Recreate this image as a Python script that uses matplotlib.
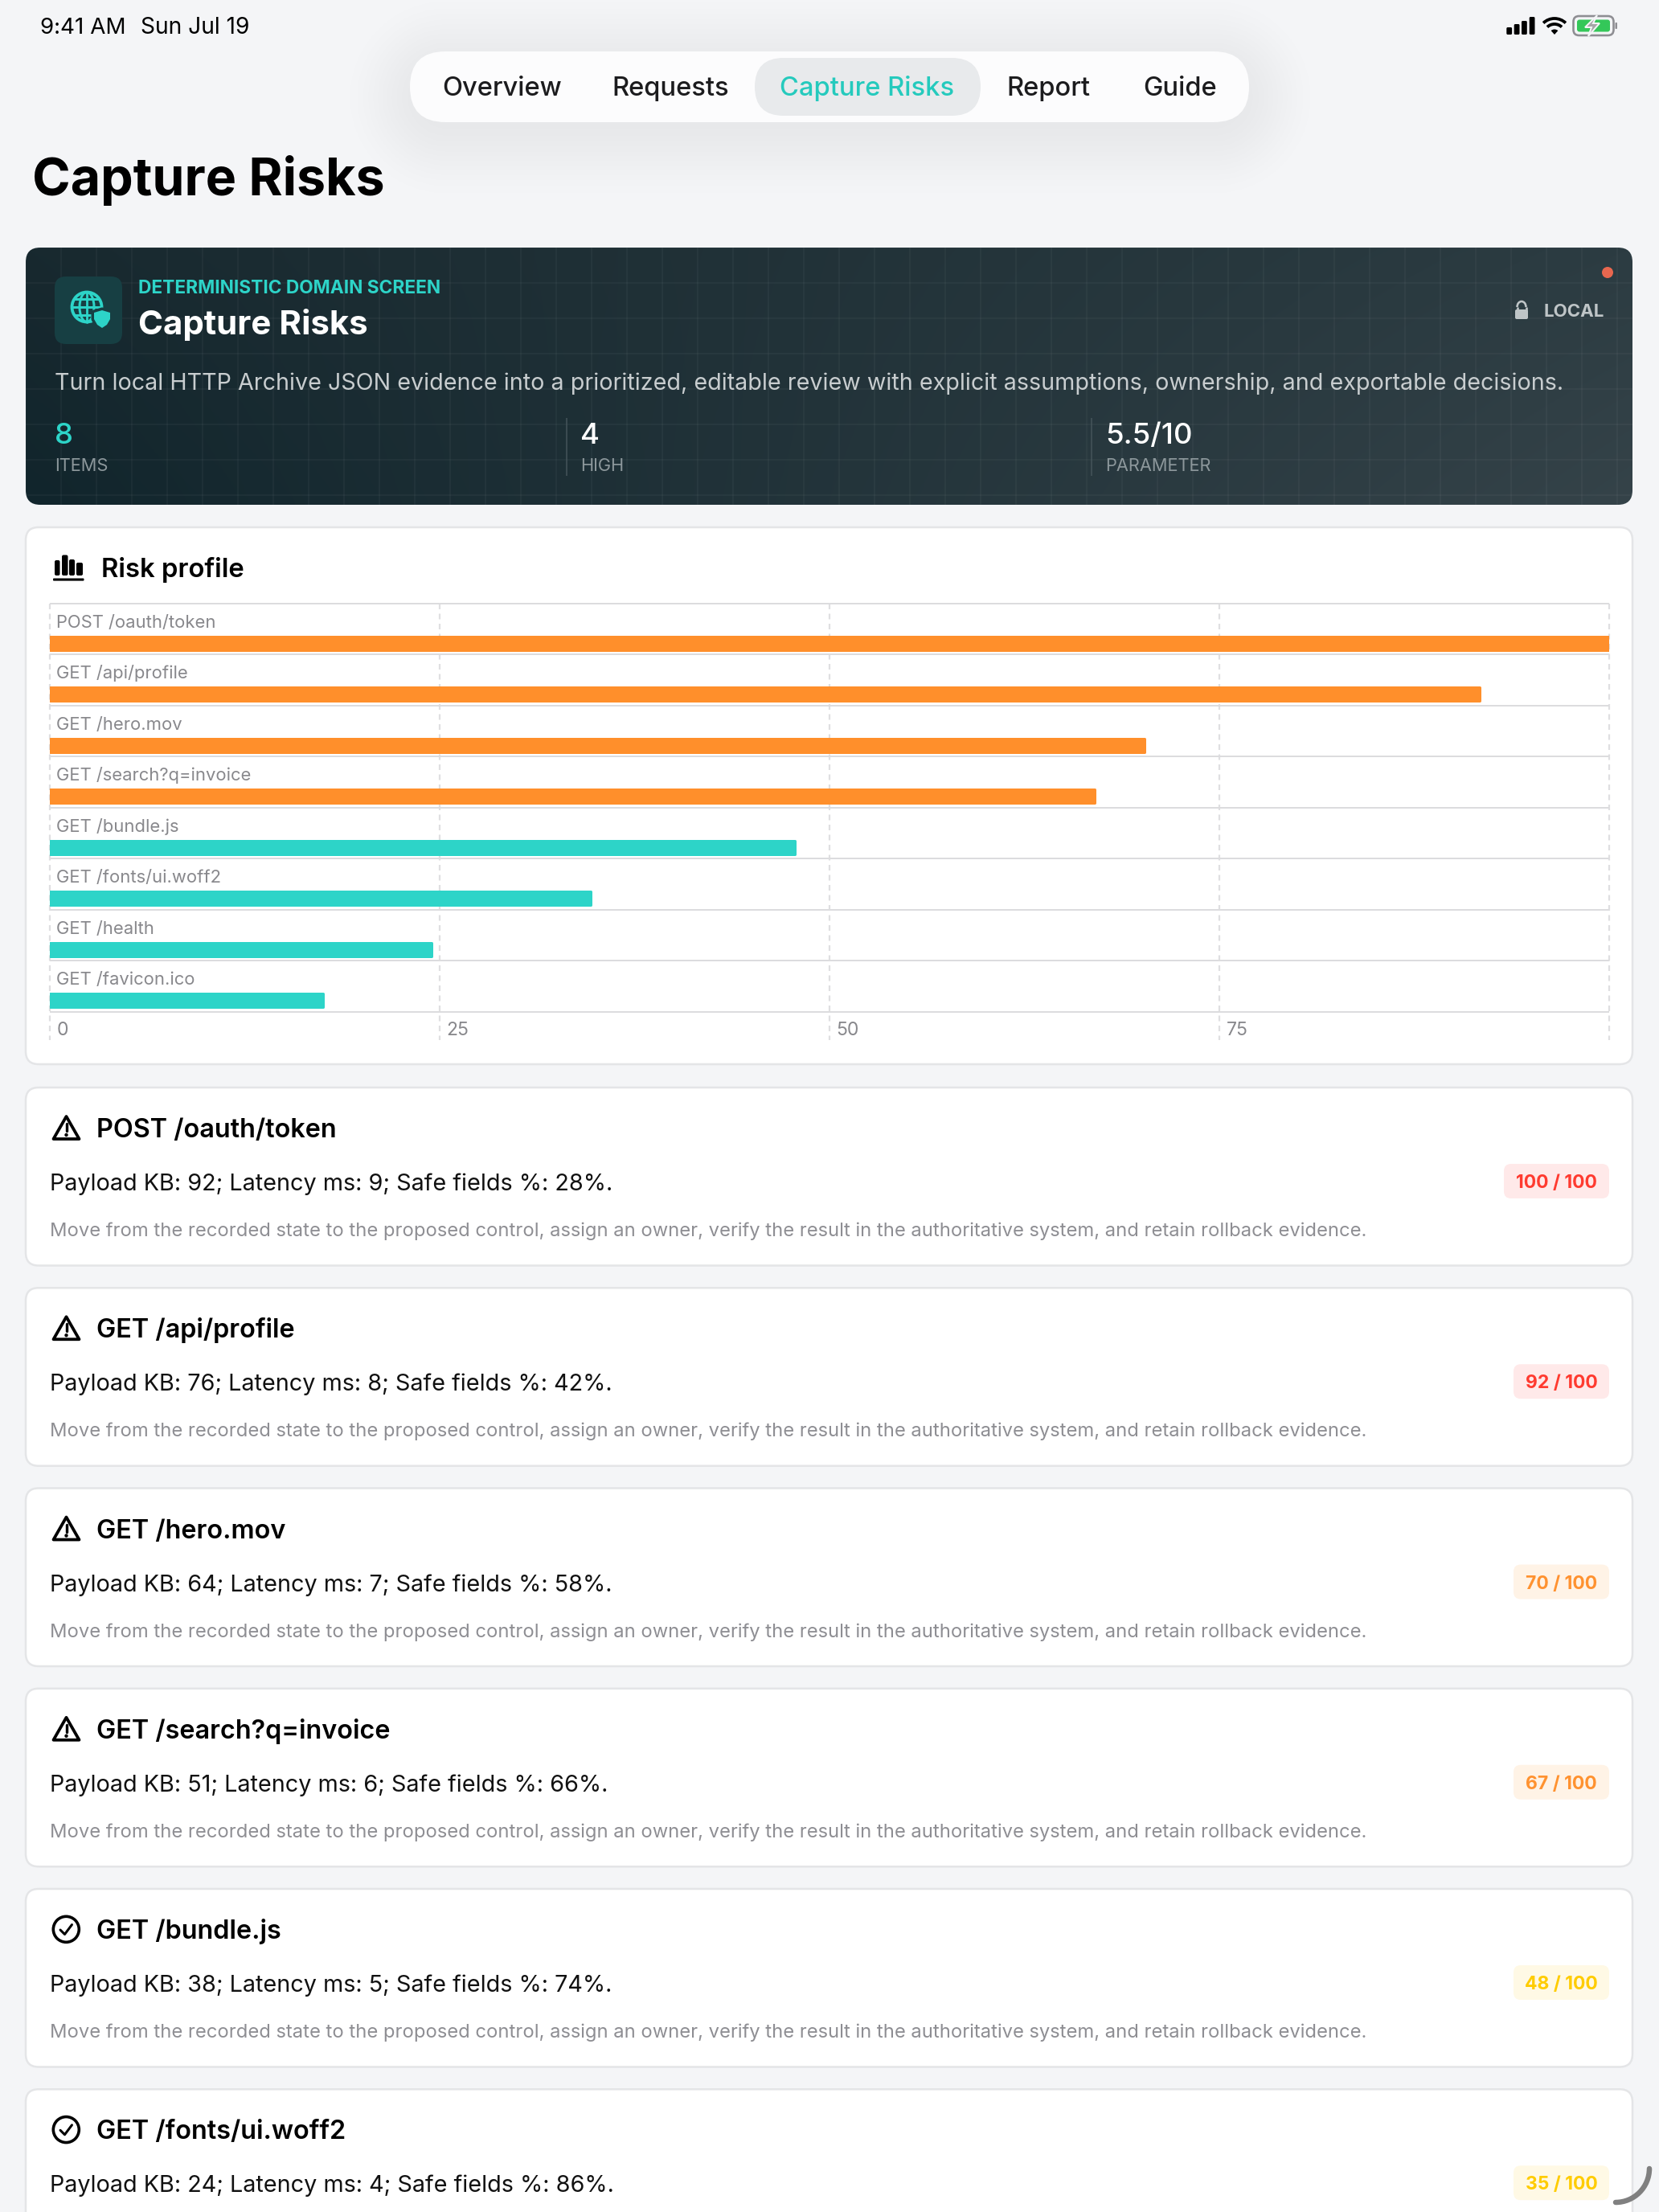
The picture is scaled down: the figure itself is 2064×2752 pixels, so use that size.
#!/usr/bin/python3

import numpy as np
import matplotlib
matplotlib.use('Agg')
import matplotlib.pyplot as plt
from matplotlib.patches import FancyBboxPatch, Circle, Arc, Ellipse, Polygon, Wedge

plt.rcParams['font.family'] = ['Inter', 'DejaVu Sans']
plt.rcParams['lines.scale_dashes'] = False

W, H = 2064, 2752

# chart data
endpoints = ['POST /oauth/token', 'GET /api/profile', 'GET /hero.mov', 'GET /search?q=invoice',
             'GET /bundle.js', 'GET /fonts/ui.woff2', 'GET /health', 'GET /favicon.ico']
risk_values = [100, 91.7, 70.2, 67, 47.8, 34.7, 24.5, 17.5]
axis_ticks = [0, 25, 50, 75, 100]
axis_labels = ['0', '25', '50', '75']

# finding cards
card_titles = endpoints[:6]
card_scores = [100, 92, 70, 67, 48, 35]
payload_kb = [92, 76, 64, 51, 38, 24]
latency_ms = [9, 8, 7, 6, 5, 4]
safe_fields = [28, 42, 58, 66, 74, 86]

nav_items = ['Overview', 'Requests', 'Capture Risks', 'Report', 'Guide']
nav_x = [550, 761, 970, 1252, 1422]

hero_stats = ['8', '4', '5.5/10']
hero_labels = ['ITEMS', 'HIGH', 'PARAMETER']
hero_x = [68, 722, 1375]

hero_body = ('Turn local HTTP Archive JSON evidence into a prioritized, editable review with '
             'explicit assumptions, ownership, and exportable decisions.')
card_note = ('Move from the recorded state to the proposed control, assign an owner, verify the '
             'result in the authoritative system, and retain rollback evidence.')

BG = '#f4f5f7'
TEAL = '#2dd4c8'
ORANGE = '#ff8f2b'
GRAY = '#8e8e93'
BORDER = '#e4e5e7'
TILE = '#173f43'


def px(v):
    return v * 0.72


def txt(x, y, s, size, color='black', weight='normal', ha='left', **kw):
    return ax.text(x, y, s, fontsize=px(size), color=color, fontweight=weight, ha=ha, va='baseline', **kw)


def rbox(x0, y0, x1, y1, r, fc, ec='none', lw=0, zorder=2, alpha=None):
    p = FancyBboxPatch((x0, y0), x1 - x0, y1 - y0, boxstyle='round,pad=0,rounding_size=%g' % r,
                       fc=fc, ec=ec, lw=px(lw), zorder=zorder, alpha=alpha)
    ax.add_patch(p)
    return p


def line(xs, ys, color, lw, zorder=5, cap='round'):
    ax.plot(xs, ys, color=color, lw=px(lw), solid_capstyle=cap, solid_joinstyle='round', zorder=zorder)


fig = plt.figure(figsize=(W / 100, H / 100), dpi=100, facecolor=BG)
ax = fig.add_axes([0, 0, 1, 1])
ax.set_axis_off()

# Status bar ------------------------------------------------------------------

txt(50, 41.5, '9:41 AM', 27.8)
txt(175, 41.5, 'Sun Jul 19', 28.2)

for bx, top in zip([1874.3, 1883.7, 1893, 1902.7], [34, 30, 26, 21]):
    rbox(bx, top, bx + 6.8, 43, 1.5, 'black', zorder=5)
ax.add_patch(Wedge((1934, 43), 6.5, 228, 312, fc='black', ec='none', zorder=5))
for r in [13, 20]:
    ax.add_patch(Arc((1934, 43), 2 * r, 2 * r, theta1=226, theta2=314, color='black', lw=px(3.8), zorder=5))
rbox(1957.5, 20, 2007.5, 44, 7, 'none', ec='#8e8e93', lw=2.6, zorder=5)
rbox(1962, 24.5, 2003, 39.5, 3, '#34c759', zorder=5)
rbox(2009.5, 28, 2012, 36, 1, '#8e8e93', zorder=5)
ax.add_patch(Polygon([(1987, 19), (1972, 34), (1980, 34), (1976, 45), (1990, 29), (1982, 29)],
                     fc='#a6a6a8', ec=BG, lw=px(2), zorder=6))

# Nav pill --------------------------------------------------------------------

# soft shadow, very low alpha patches get lost in 8 bit so use an image
sx, sy = np.meshgrid(np.arange(380, 1690, 2.0), np.arange(0, 290, 2.0))
qx = np.abs(sx - 1032) - (522 - 44)
qy = np.abs(sy - 120) - (44 - 44)
dist = np.hypot(np.maximum(qx, 0), np.maximum(qy, 0)) + np.minimum(np.maximum(qx, qy), 0) - 44
fade = np.clip((95 - dist) / 120, 0, 1)
shadow = np.zeros(sx.shape + (4,))
shadow[..., 3] = 0.055 * fade * fade * (3 - 2 * fade)
ax.imshow(shadow, extent=(380, 1690, 290, 0), aspect='auto', zorder=1, interpolation='bilinear')

rbox(510, 64, 1554, 152, 44, '#fcfcfd', zorder=2)
rbox(939, 72, 1220, 144, 36, '#e8eaec', zorder=3)
for label, x in zip(nav_items, nav_x):
    c = '#25cabd' if label == 'Capture Risks' else '#1c1c1e'
    txt(x, 119, label, 32.7, color=c, weight='medium', zorder=4)

txt(39.5, 243.5, 'Capture Risks', 64.5, weight='bold')

# Hero card -------------------------------------------------------------------

hx0, hx1, hy0, hy1 = 32, 2031, 308, 628
corners = np.array([[[0x18, 0x29, 0x2f], [0x2c, 0x3c, 0x42]],
                    [[0x11, 0x25, 0x2c], [0x35, 0x43, 0x49]]]) / 255
u, v = np.meshgrid(np.linspace(0, 1, 300), np.linspace(0, 1, 60))
u, v = u[..., None], v[..., None]
grad = (corners[0, 0] * (1 - u) * (1 - v) + corners[0, 1] * u * (1 - v)
        + corners[1, 0] * (1 - u) * v + corners[1, 1] * u * v)
hero_clip = rbox(hx0, hy0, hx1, hy1, 18, 'none', zorder=2)
im = ax.imshow(grad, extent=(hx0, hx1, hy1, hy0), aspect='auto', zorder=2, interpolation='bilinear')
im.set_clip_path(hero_clip)
for gx in np.arange(hx0 - 0.5, hx1, 44):
    l, = ax.plot([gx, gx], [hy0, hy1], color='white', alpha=0.035, lw=px(2), zorder=2.5)
    l.set_clip_path(hero_clip)
for gy in np.arange(hy0, hy1, 44):
    l, = ax.plot([hx0, hx1], [gy, gy], color='white', alpha=0.035, lw=px(2), zorder=2.5)
    l.set_clip_path(hero_clip)

rbox(68, 344, 152, 428, 14, TILE, zorder=3)
# globe with shield
gc = (108, 382)
ax.add_patch(Circle(gc, 18.5, fc='none', ec=TEAL, lw=px(3.8), zorder=4))
ax.add_patch(Ellipse(gc, 18, 37, fc='none', ec=TEAL, lw=px(3), zorder=4))
line([108, 108], [363, 401], TEAL, 2.8, zorder=4)
line([93, 123], [372, 372], TEAL, 3, zorder=4)
line([90, 126], [382, 382], TEAL, 3, zorder=4)
line([93, 122], [392, 392], TEAL, 3, zorder=4)
shield = [(127, 386), (137, 389), (137, 397), (133, 404), (127, 408), (121, 404), (117, 397), (117, 389)]
ax.add_patch(Polygon(shield, fc=TILE, ec=TILE, lw=px(7), joinstyle='round', zorder=4.5))
ax.add_patch(Polygon(shield, fc=TEAL, ec='none', zorder=5))

txt(172, 365, 'DETERMINISTIC DOMAIN SCREEN', 22.7, color=TEAL, weight='bold', zorder=4)
txt(172, 416, 'Capture Risks', 42, color='white', weight='bold', zorder=4)
txt(68, 485, hero_body, 28.7, color='#c8cdcf', zorder=4)

for i, (val, lab, x) in enumerate(zip(hero_stats, hero_labels, hero_x)):
    txt(x, 552, val, 36.5, color=TEAL if i == 0 else 'white', weight='medium', zorder=4)
    txt(x, 586, lab, 21.8, color='#8c979b', zorder=4)
for x in [705, 1358]:
    line([x, x], [520, 592], '#46555b', 1.5, zorder=3, cap='butt')

ax.add_patch(Circle((2000, 339), 7, fc='#e8674f', ec='none', zorder=4))
rbox(1885, 385, 1901, 397, 2, '#bfc5c7', zorder=4)
ax.add_patch(Arc((1893, 382), 11, 14, theta1=180, theta2=360, color='#bfc5c7', lw=px(2.6), zorder=4))
line([1887.5, 1887.5], [382, 386], '#bfc5c7', 2.6, zorder=4, cap='butt')
line([1898.5, 1898.5], [382, 386], '#bfc5c7', 2.6, zorder=4, cap='butt')
txt(1920, 394, 'LOCAL', 22.3, color='#bfc5c7', weight='bold', zorder=4)

# Risk profile card -----------------------------------------------------------

rbox(32, 656, 2031, 1324, 16, 'white', ec=BORDER, lw=2.5)
for bx, top, bw in zip([68, 77, 86, 95], [697, 690.5, 696, 700], [6.5, 7.5, 7, 8]):
    rbox(bx, top, bx + bw, 716, 2, 'black', zorder=4)
rbox(66, 719.5, 104.5, 722.6, 1, 'black', zorder=4)
txt(126, 718, 'Risk profile', 32.8, weight='semibold')

chart_x0, chart_x1, chart_top, chart_bottom = 62, 2002, 750.7, 1294
band = 63.5
cax = fig.add_axes([chart_x0 / W, 1 - chart_bottom / H, (chart_x1 - chart_x0) / W, (chart_bottom - chart_top) / H])
cax.set_axis_off()
cax.patch.set_alpha(0)
cax.set_xlim(0, 100)
cax.set_ylim((chart_bottom - chart_top) / band, 0)

cax.vlines(axis_ticks, 0, (chart_bottom - chart_top) / band, colors='#dfdfe1', lw=px(2.2),
           linestyles=[(0, (px(7), px(5.5)))], zorder=1, clip_on=False)
cax.hlines(np.arange(len(endpoints) + 1), 0, 100, colors='#dcdcde', lw=px(2), zorder=2, clip_on=False)

y_pos = np.arange(len(endpoints)) + 0.782
colors = [ORANGE if v >= 50 else TEAL for v in risk_values]
cax.barh(y_pos, risk_values, height=0.27, color=colors, edgecolor=colors, lw=px(3),
         joinstyle='round', zorder=3)

for i, name in enumerate(endpoints):
    cax.annotate(name, xy=(0, i), xytext=(8.5, -30), textcoords='offset pixels', fontsize=px(22),
                 color='#88888c', va='baseline', ha='left', zorder=4)
for tick, lab in zip(axis_ticks, axis_labels):
    cax.annotate(lab, xy=(tick, len(endpoints)), xytext=(8.5, -29), textcoords='offset pixels', fontsize=px(23),
                 color='#88888c', va='baseline', ha='left', zorder=4)

# Finding cards ---------------------------------------------------------------

card_step = 249.25
card_h = 221.5
for i, (title, score, kb, ms, safe) in enumerate(zip(card_titles, card_scores, payload_kb, latency_ms, safe_fields)):
    top = 1353 + i * card_step
    rbox(32, top, 2031, top + card_h, 16, 'white', ec=BORDER, lw=2.5)

    if score >= 50:
        # warning triangle
        ax.add_patch(Polygon([(82.5, top + 36), (66.5, top + 64), (98.5, top + 64)], fc='none', ec='black',
                             lw=px(3.8), joinstyle='round', zorder=4))
        line([82.5, 82.5], [top + 45, top + 54], 'black', 3.4)
        ax.add_patch(Circle((82.5, top + 59), 2.2, fc='black', ec='none', zorder=5))
        title_x = 120
    else:
        ax.add_patch(Circle((82.3, top + 50.3), 16, fc='none', ec='black', lw=px(3.6), zorder=4))
        line([75, 80.5, 89.5], [top + 51, top + 56.5, top + 44.5], 'black', 3)
        title_x = 119.5

    txt(title_x, top + 62, title, 32.4, weight='semibold')
    txt(62.5, top + 128, 'Payload KB: %d; Latency ms: %d; Safe fields %%: %d%%.' % (kb, ms, safe), 28.8, color='#111111')
    # last card runs off the bottom of the screen, its note is not visible
    if top + 185 < H:
        txt(62.5, top + 185, card_note, 23.75, color=GRAY)

    if score >= 80:
        fg, fill = '#ff3b30', '#ffe9e9'
    elif score >= 50:
        fg, fill = '#ff9230', '#fff3e6'
    else:
        fg, fill = '#ffcc00', '#fff9e5'
    label = '%d / 100' % score
    badge_left = 1871 if score == 100 else 1883
    rbox(badge_left, top + 95, 2002, top + 138, 9, fill, zorder=3)
    txt((badge_left + 2002) / 2, top + 125, label, 23, color=fg, weight='bold', ha='center', zorder=4)

# Scroll indicator ------------------------------------------------------------

ax.add_patch(Arc((2010, 2698), 84, 84, theta1=0, theta2=90, color='#808080', lw=px(6.5), capstyle='round', zorder=6))

ax.set_xlim(0, W)
ax.set_ylim(H, 0)

fig.savefig('out.png', dpi=100, facecolor=BG)
